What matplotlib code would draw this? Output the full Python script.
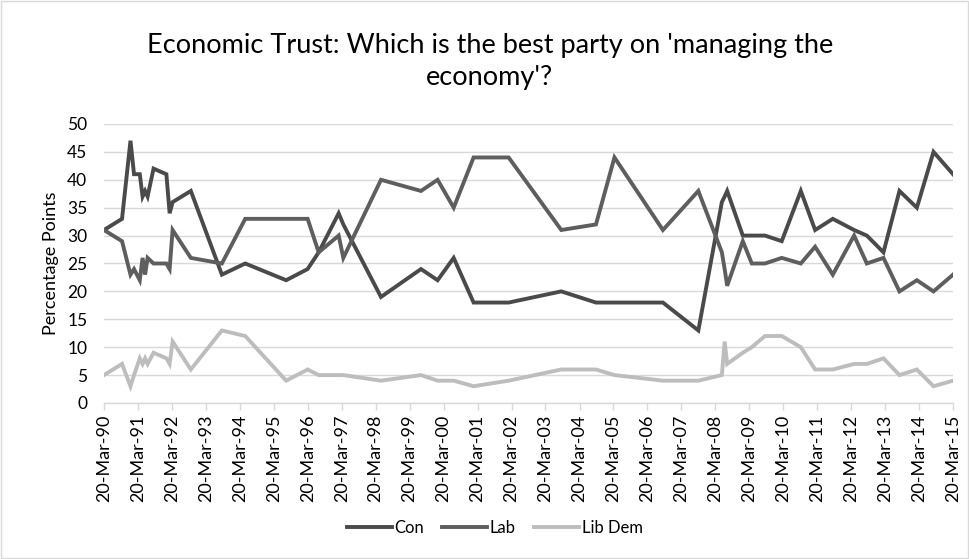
import matplotlib
matplotlib.use('Agg')
import matplotlib.dates as mdates
import pandas as pd
from matplotlib import pyplot as plt
from matplotlib.patches import Rectangle

plt.rcParams['font.family'] = ['Lato', 'DejaVu Sans']

dates = ['1990-03-20', '1990-09-30', '1990-12-30', '1991-02-06', '1991-04-09', '1991-05-09',
         '1991-06-05', '1991-07-02', '1991-09-04', '1992-01-20', '1992-02-24', '1992-03-27',
         '1992-10-09', '1993-09-08', '1994-05-17', '1995-07-31', '1996-03-18', '1996-07-15',
         '1997-02-15', '1997-04-06', '1998-05-16', '1999-07-20', '2000-01-15', '2000-07-06',
         '2001-02-05', '2002-02-17', '2003-09-06', '2004-09-13', '2005-03-31', '2006-09-03',
         '2007-09-19', '2008-05-29', '2008-06-28', '2008-07-25', '2009-01-09', '2009-04-16',
         '2009-09-05', '2010-03-04', '2010-09-25', '2011-02-26', '2011-09-04', '2012-04-20',
         '2012-09-04', '2013-03-02', '2013-08-21', '2014-02-24', '2014-08-22', '2015-03-20']

con = [31, 33, 47, 41, 41, 37, 38, 37, 42, 41,
       34, 36, 38, 23, 25, 22, 24, 27, 34, 32,
       19, 24, 22, 26, 18, 18, 20, 18, 18, 18,
       13, 36, 37, 38, 30, 30, 30, 29, 38, 31,
       33, 31, 30, 27, 38, 35, 45, 41]
lab = [31, 29, 23, 24, 22, 26, 23, 26, 25, 25,
       24, 31, 26, 25, 33, 33, 33, 27, 30, 26,
       40, 38, 40, 35, 44, 44, 31, 32, 44, 31,
       38, 27, 24, 21, 29, 25, 25, 26, 25, 28,
       23, 30, 25, 26, 20, 22, 20, 23]
lib_dem = [5, 7, 3, 5, 8, 7, 8, 7, 9, 8,
           7, 11, 6, 13, 12, 4, 6, 5, 5, 5,
           4, 5, 4, 4, 3, 4, 6, 6, 5, 4,
           4, 5, 11, 7, 9, 10, 12, 12, 10, 6,
           6, 7, 7, 8, 5, 6, 3, 4]

series = [('Con', con, '#4a4a4a'), ('Lab', lab, '#5e5e5e'), ('Lib Dem', lib_dem, '#bdbdbd')]
x = pd.to_datetime(dates)

fig = plt.figure(figsize=(9.7, 5.59), dpi=100)
fig.patches.append(Rectangle((0.001, 0.002), 0.997, 0.996, transform=fig.transFigure,
                             fill=False, edgecolor='#d9d9d9', linewidth=1))
ax = fig.add_axes([0.1072, 0.2791, 0.8753, 0.4991])

for name, vals, col in series:
    ax.plot(x, vals, color=col, linewidth=2.8, label=name, solid_joinstyle='miter')

ax.set_ylim(0, 50)
ax.set_yticks(range(0, 51, 5))
ax.set_xlim(pd.Timestamp('1990-03-20'), pd.Timestamp('2015-03-20'))
ax.xaxis.set_major_locator(mdates.YearLocator(1, month=3, day=20))
ax.xaxis.set_major_formatter(mdates.DateFormatter('%d-%b-%y'))
plt.setp(ax.get_xticklabels(), rotation=90)

ax.grid(axis='y', color='#d9d9d9', linewidth=1)
ax.set_axisbelow(True)
for s in ['top', 'right', 'left']:
    ax.spines[s].set_visible(False)
ax.spines['bottom'].set_color('#d9d9d9')
ax.spines['bottom'].set_linewidth(1)
ax.tick_params(axis='x', colors='#d9d9d9', labelcolor='black', labelsize=13, length=5, width=1)
ax.tick_params(axis='y', length=0, labelcolor='black', labelsize=12.5, pad=12)

ax.set_ylabel('Percentage Points', fontsize=13, color='black', labelpad=6)
fig.text(0.505, 0.89, "Economic Trust: Which is the best party on 'managing the\neconomy'?",
         ha='center', va='center', fontsize=19.5, color='black', linespacing=1.35)

fig.legend(loc='center', bbox_to_anchor=(0.51, 1 - 528 / 559), ncol=3, frameon=False,
           fontsize=12, handlelength=2.7, handletextpad=0.15, columnspacing=1.1,
           labelcolor='black')

fig.savefig('out.png', dpi=100)
